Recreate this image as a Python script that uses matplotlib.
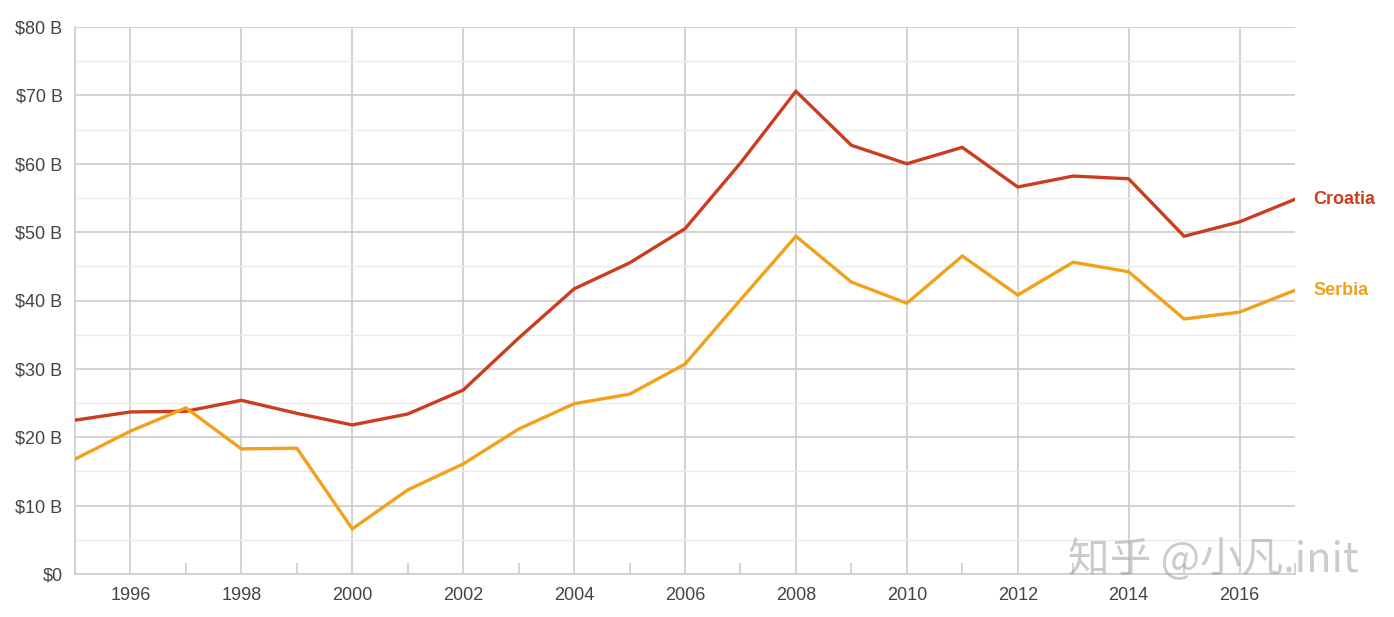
import matplotlib
matplotlib.use("Agg")
import matplotlib.pyplot as plt
from matplotlib.ticker import MultipleLocator, FuncFormatter

years = list(range(1995, 2018))
croatia = [22.5, 23.7, 23.8, 25.4, 23.5, 21.8, 23.4, 26.9, 34.5, 41.7, 45.5, 50.5,
           60.1, 70.6, 62.7, 60.0, 62.4, 56.6, 58.2, 57.8, 49.4, 51.5, 54.8]
serbia = [16.8, 20.9, 24.3, 18.3, 18.4, 6.6, 12.3, 16.1, 21.2, 24.9, 26.3, 30.7,
          40.1, 49.4, 42.7, 39.6, 46.5, 40.8, 45.6, 44.2, 37.3, 38.3, 41.5]
series_names = ["Croatia", "Serbia"]
colors = ["#cc3d1f", "#f2a11b"]

plt.rcParams['font.family'] = ['Liberation Sans', 'DejaVu Sans']

fig = plt.figure(figsize=(13.94, 6.17), dpi=100)
ax = fig.add_axes([75/1394, 1-574/617, 1220/1394, 547/617])

for vals, c, name in zip([croatia, serbia], colors, series_names):
    ax.plot(years, vals, color=c, lw=2.4, solid_joinstyle='miter', zorder=3)
    ax.annotate(name, xy=(years[-1], vals[-1]), xytext=(13, 0), textcoords='offset points',
                color=c, fontsize=13, fontweight='bold', va='center', ha='left',
                annotation_clip=False)

ax.set_xlim(1995, 2017)
ax.set_ylim(0, 80)
ax.xaxis.set_major_locator(MultipleLocator(2))
ax.xaxis.set_minor_locator(MultipleLocator(1))
ax.yaxis.set_major_locator(MultipleLocator(10))
ax.yaxis.set_minor_locator(MultipleLocator(5))
ax.yaxis.set_major_formatter(FuncFormatter(lambda v, p: "$0" if v == 0 else f"${v:.0f} B"))
ax.xaxis.set_major_formatter(FuncFormatter(lambda v, p: f"{int(v)}"))

ax.grid(which='major', axis='both', color='#cccccc', lw=1.2, zorder=0)
ax.grid(which='minor', axis='y', color='#ebebeb', lw=1.0, zorder=0)
ax.set_axisbelow(True)

for s in ['top', 'right']:
    ax.spines[s].set_visible(False)
ax.spines['left'].set_color('#cccccc')
ax.spines['bottom'].set_color('#cccccc')
ax.spines['left'].set_linewidth(1.2)
ax.spines['bottom'].set_linewidth(1.2)

ax.tick_params(axis='x', which='major', length=0, pad=9, labelsize=13, labelcolor='#444444')
ax.tick_params(axis='x', which='minor', length=8, direction='in', color='#cccccc', width=1.2)
ax.tick_params(axis='y', which='both', length=0, pad=9, labelsize=13, labelcolor='#444444')

fig.text(1068/1394, 1-560/617, "知乎 @小凡.init", fontsize=30,
         family=['Noto Sans CJK SC', 'DejaVu Sans'], color='#999999', alpha=0.5,
         ha='left', va='center')

fig.savefig("out.png", dpi=100)
